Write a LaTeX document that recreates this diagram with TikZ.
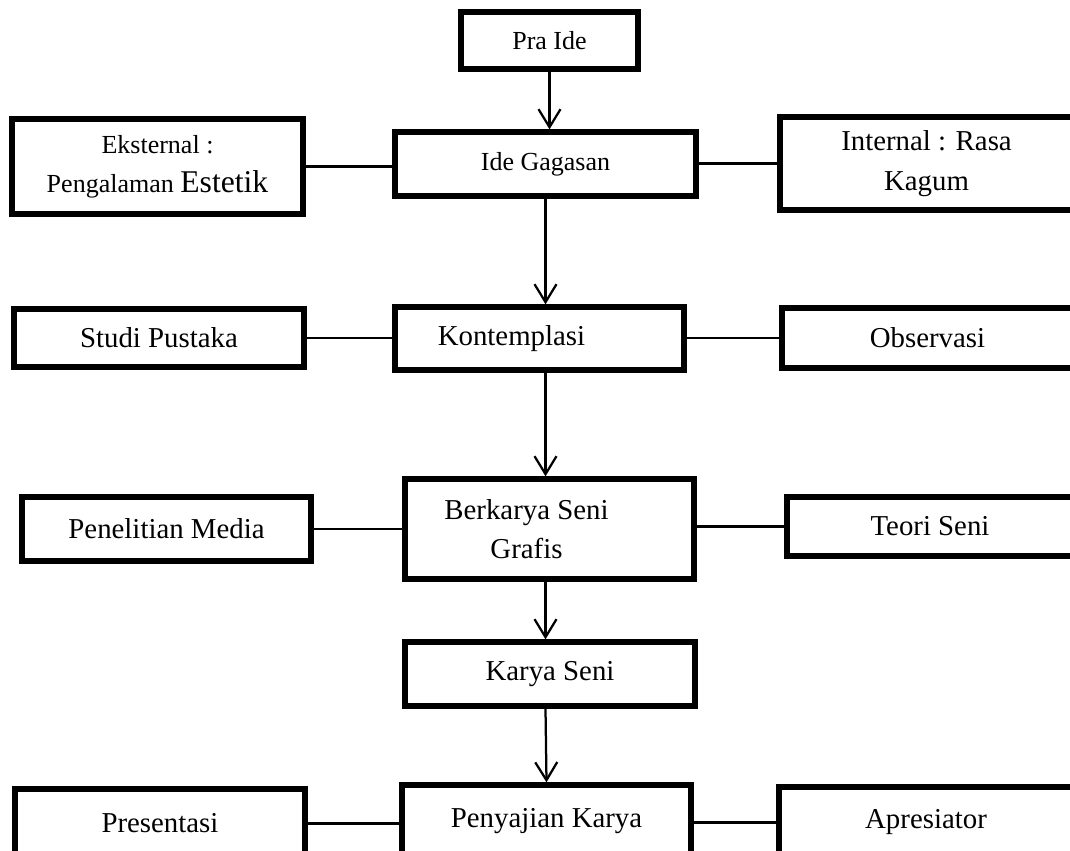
\documentclass[tikz,border=0pt]{standalone}
\usepackage{fontspec}
\setmainfont{Liberation Serif}
\usepackage{tikz}
\usetikzlibrary{arrows.meta}

\begin{document}
\begin{tikzpicture}[x=0.025cm, y=-0.025cm,
  kotak/.style={draw, line width=3.8pt, inner sep=0pt, align=center, font=\fontsize{20.5}{28}\selectfont},
  kecil/.style={font=\fontsize{18.5}{28}\selectfont},
  garis/.style={line width=1.6pt},
  panah/.style={line width=1.6pt, -{Straight Barb[length=4.5mm, width=5.5mm]}}]
\useasboundingbox (0,0) rectangle (1070,850);

% kolom tengah
\node [kotak, kecil, minimum width=4.425cm, minimum height=1.425cm] (pra) at (549.5,40.5) {Pra Ide};
\node [kotak, kecil, minimum width=7.525cm, minimum height=1.6cm] (ide) at (545.5,164) {Ide Gagasan};
\node [kotak, minimum width=7.225cm, minimum height=1.575cm] (kon) at (539.5,338.5) {\hspace*{-1.4cm}Kontemplasi};
\node [kotak, minimum width=7.225cm, minimum height=2.5cm] (berk) at (549.5,529) {\hspace*{-1.15cm}Berkarya Seni\\\hspace*{-1.15cm}Grafis};
\node [kotak, minimum width=7.25cm, minimum height=1.6cm] (karya) at (550,674) {Karya Seni};
\node [kotak, minimum width=7.225cm, minimum height=1.825cm] (sajian) at (546.5,821.5) {Penyajian Karya};

% kiri
\node [kotak, kecil, minimum width=7.275cm, minimum height=2.375cm] (eks) at (157.5,166.5) {Eksternal :\\Pengalaman {\fontsize{22.5}{28}\selectfont Estetik}};
\node [kotak, minimum width=7.25cm, minimum height=1.45cm] (studi) at (159,338) {Studi Pustaka};
\node [kotak, minimum width=7.225cm, minimum height=1.6cm] (pen) at (166.5,529) {Penelitian Media};
\node [kotak, minimum width=7.25cm, minimum height=1.725cm] (pres) at (160,823.5) {Presentasi};

% kanan
\node [kotak, minimum width=7.325cm, minimum height=2.325cm] (intr) at (926.5,163.5) {Internal : Rasa\\Kagum};
\node [kotak, minimum width=7.275cm, minimum height=1.5cm] (obs) at (927.5,338) {Observasi};
\node [kotak, minimum width=7.15cm, minimum height=1.475cm] (teori) at (930,526.5) {Teori Seni};
\node [kotak, minimum width=7.35cm, minimum height=1.775cm] (apr) at (926,822.5) {Apresiator};

\draw[panah] (pra.south) -- (pra.south |- ide.north);
\draw[panah] (ide.south) -- (ide.south |- kon.north);
\draw[panah] (kon.south -| ide.south) -- (berk.north -| ide.south);
\draw[panah] (berk.south -| ide.south) -- (karya.north -| ide.south);
\draw[panah] (karya.south -| ide.south) -- (sajian.north);

\draw[garis] (eks.east) -- (eks.east -| ide.west);
\draw[garis] (ide.east |- intr.west) -- (intr.west);
\draw[garis] (studi.east) -- (studi.east -| kon.west);
\draw[garis] (kon.east |- obs.west) -- (obs.west);
\draw[garis] (pen.east) -- (pen.east -| berk.west);
\draw[garis] (berk.east |- teori.west) -- (teori.west);
\draw[garis] (pres.east) -- (pres.east -| sajian.west);
\draw[garis] (sajian.east |- apr.west) -- (apr.west);
\end{tikzpicture}
\end{document}
